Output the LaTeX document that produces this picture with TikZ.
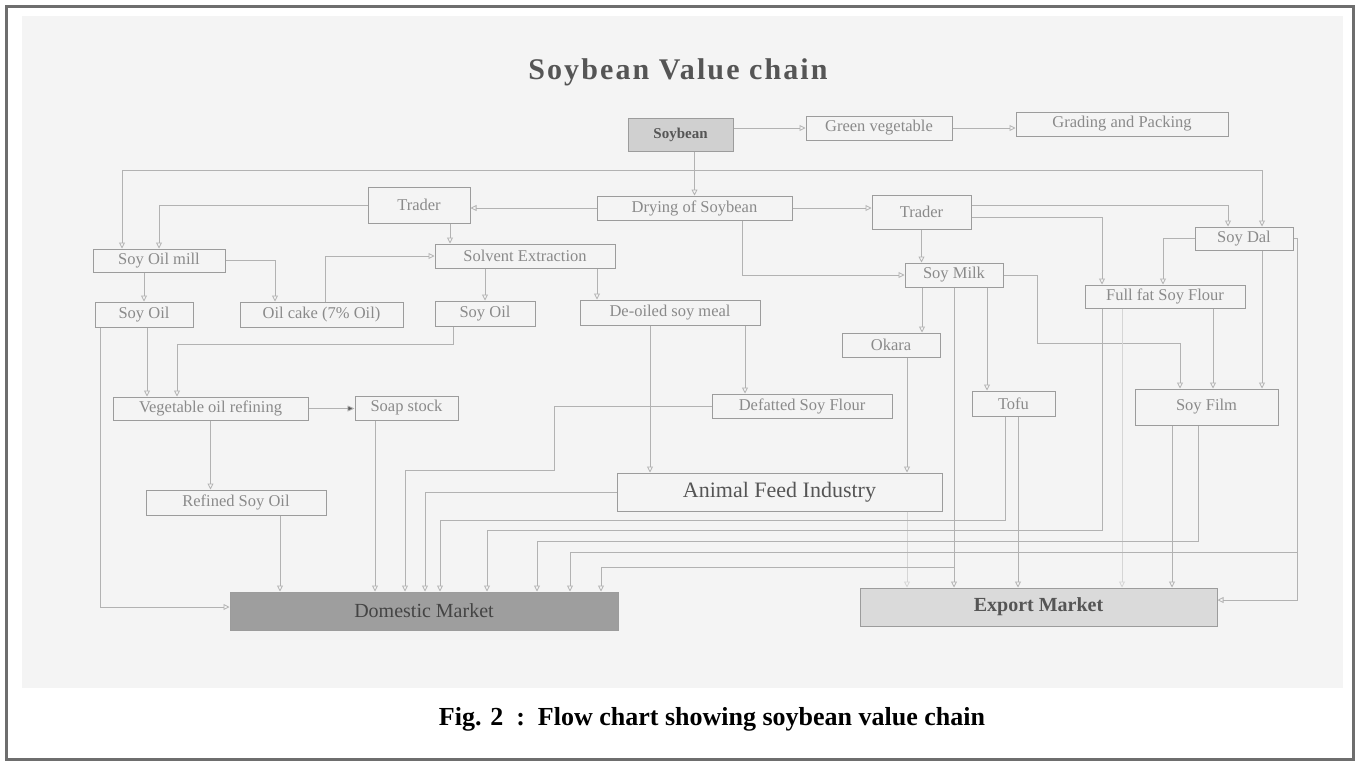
\documentclass[tikz,border=0pt]{standalone}
\usepackage{fontspec}
\setmainfont{Liberation Serif}
\newfontfamily\spacedserif[LetterSpace=7]{Liberation Serif}
\usetikzlibrary{arrows.meta}

\definecolor{panelgray}{HTML}{F4F4F4}
\definecolor{framegray}{HTML}{6E6E6E}
\definecolor{linegray}{HTML}{B2B2B2}
\definecolor{boxgray}{HTML}{9C9C9C}
\definecolor{textgray}{HTML}{8A8A8A}
\definecolor{titlegray}{HTML}{555555}
\definecolor{domfill}{HTML}{9E9E9E}
\definecolor{expfill}{HTML}{DADADA}
\definecolor{soyfill}{HTML}{D0D0D0}

\tikzset{
  box/.style={draw=boxgray, line width=1pt, text=textgray, inner sep=0pt,
    font=\fontsize{16.5}{18}\selectfont},
  sz/.style 2 args={minimum width=#1pt, minimum height=#2pt},
  flow/.style={draw=linegray, line width=0.8pt,
    -{Triangle[open, length=6pt, width=6pt]}},
  faint/.style={flow, draw=linegray!55},
  dark/.style={draw=linegray, line width=0.8pt,
    -{Triangle[length=7pt, width=6pt, fill=titlegray]}}
}

\begin{document}
\begin{tikzpicture}[x=1pt, y=-1pt]
  \useasboundingbox (0,0) rectangle (1359,764);
  % frame and panel
  \fill[panelgray] (22,16) rectangle (1343,688);
  \draw[framegray, line width=3pt] (6,6) rectangle (1353,759);

  \node[text=titlegray, font=\spacedserif\bfseries\fontsize{30}{32}\selectfont] (title) at (678,72) {Soybean Value chain};

  % top row
  \node[box, sz={105}{33}, fill=soyfill, text=titlegray, font=\bfseries\fontsize{15}{17}\selectfont] (soy) at (680.5,134.5) {Soybean};
  \node[box, sz={146}{24}] (green) at (879,128) {Green vegetable};
  \node[box, sz={212}{24}] (grading) at (1122,124) {Grading and Packing};

  % processing
  \node[box, sz={195}{24}] (drying) at (694.5,208) {Drying of Soybean};
  \node[box, sz={102}{36}] (traderL) at (419,205) {Trader};
  \node[box, sz={99}{34}] (traderR) at (921.5,212) {Trader};
  \node[box, sz={132}{23}] (oilmill) at (159,260.5) {Soy Oil mill};
  \node[box, sz={180}{24}] (solvent) at (525,256) {Solvent Extraction};
  \node[box, sz={98}{25}] (oilL) at (144,314.5) {Soy Oil};
  \node[box, sz={163}{25}] (cake) at (321.5,314.5) {Oil cake (7\% Oil)};
  \node[box, sz={100}{25}] (oilM) at (485,313.5) {Soy Oil};
  \node[box, sz={180}{25}] (meal) at (670,312.5) {De-oiled soy meal};
  \node[box, sz={98}{24}] (milk) at (954,275) {Soy Milk};
  \node[box, sz={98}{23}] (dal) at (1244,238.5) {Soy Dal};
  \node[box, sz={160}{23}] (fullfat) at (1165,296.5) {Full fat Soy Flour};
  \node[box, sz={98}{24}] (okara) at (891,345) {Okara};
  \node[box, sz={83}{25}] (tofu) at (1013.5,403.5) {Tofu};
  \node[box, sz={143}{36}] (film) at (1206.5,407) {Soy Film};
  \node[box, sz={195}{23}] (refining) at (210.5,408.5) {Vegetable oil refining};
  \node[box, sz={103}{24}] (soap) at (406.5,408) {Soap stock};
  \node[box, sz={180}{24}] (defat) at (802,406) {Defatted Soy Flour};
  \node[box, sz={325}{38}, text=titlegray, font=\fontsize{22}{24}\selectfont] (feed) at (779.5,492) {Animal Feed Industry};
  \node[box, sz={180}{25}] (refined) at (236,502.5) {Refined Soy Oil};

  % markets
  \node[box, sz={388}{38}, fill=domfill, text=titlegray!80!black, font=\fontsize{20}{22}\selectfont] (domestic) at (424,611) {Domestic Market};
  \node[box, sz={357}{38}, fill=expfill, text=titlegray, font=\bfseries\fontsize{20}{22}\selectfont] (export) at (1038.5,607) {Export Market};

  \node[font=\bfseries\fontsize{26}{28}\selectfont] (caption) at (712,719) {Fig. 2~~:~~Flow chart showing soybean value chain};

  % soybean branches
  \coordinate (split) at (694.5,170);
  \draw[flow] (soy.east |- green.west) -- (green.west);
  \draw[flow] (green.east) -- (green.east -| grading.west);
  \draw[flow] (soy.south -| drying.north) -- (drying.north);
  \draw[flow] (split) -| ([xshift=-37pt]oilmill.north);
  \draw[flow] (split) -| ([xshift=18pt]dal.north);

  % drying and traders
  \draw[flow] (drying.west) -- (drying.west -| traderL.east);
  \draw[flow] (drying.east) -- (drying.east -| traderR.west);
  \draw[flow] ([xshift=47.5pt]drying.south) |- (milk.west);
  \draw[flow] (traderL.west) -| (oilmill.north);
  \draw[flow] ([xshift=31pt]traderL.south) -- ([xshift=31pt]traderL.south |- solvent.north);
  \draw[flow] (traderR.south) -- (traderR.south |- milk.north);
  \draw[flow] ([yshift=7pt]traderR.east) -| ([xshift=-16pt]dal.north);
  \draw[flow] ([yshift=-5pt]traderR.east) -| ([xshift=-63pt]fullfat.north);

  % oil side
  \draw[flow] (oilmill.east) -| ([xshift=-46.5pt]cake.north);
  \draw[flow] (oilL.north |- oilmill.south) -- (oilL.north);
  \draw[flow] ([xshift=3.5pt]cake.north) |- (solvent.west);
  \draw[flow] (oilM.north |- solvent.south) -- (oilM.north);
  \draw[flow] ([xshift=72pt]solvent.south) -- ([xshift=72pt]solvent.south |- meal.north);
  \draw[flow] ([xshift=3pt]oilL.south) -- ([xshift=3pt]oilL.south |- refining.north);
  \draw[flow] ([xshift=-44pt]oilL.south) |- ([yshift=4pt]domestic.west);
  \draw[flow] ([xshift=-32pt]oilM.south) -- ++(0,18) -| ([xshift=-33.5pt]refining.north);
  \draw[dark] (refining.east) -- (refining.east -| soap.west);
  \draw[flow] (refining.south) -- (refining.south |- refined.north);
  \draw[flow] ([xshift=44pt]refined.south) -- ([xshift=44pt]refined.south |- domestic.north);
  \draw[flow] ([xshift=-31.5pt]soap.south) -- ([xshift=-31.5pt]soap.south |- domestic.north);

  % meal side
  \draw[flow] ([xshift=-20pt]meal.south) -- ([xshift=-20pt]meal.south |- feed.north);
  \draw[flow] ([xshift=75pt]meal.south) -- ([xshift=75pt]meal.south |- defat.north);
  \draw[flow] (defat.west) -- ++(-157,0) -- ++(0,64) -| ([xshift=-19pt]domestic.north);
  \draw[flow] (feed.west) -| ([xshift=1pt]domestic.north);
  \draw[faint] ([xshift=127.5pt]feed.south) -- ([xshift=127.5pt]feed.south |- export.north);

  % milk side
  \draw[flow] ([xshift=-32pt]milk.south) -- ([xshift=-32pt]milk.south |- okara.north);
  \draw[flow] ([xshift=33pt]milk.south) -- ([xshift=33pt]milk.south |- tofu.north);
  \draw[flow] (milk.south) -- (milk.south |- export.north);
  \draw[flow] (milk.south) -- ++(0,280) -| ([xshift=177pt]domestic.north);
  \draw[flow] (milk.east) -- ++(34,0) -- ++(0,68) -| ([xshift=-26.5pt]film.north);
  \draw[flow] ([xshift=16pt]okara.south) -- ([xshift=16pt]okara.south |- feed.north);
  \draw[flow] ([xshift=-8.5pt]tofu.south) -- ++(0,104) -| ([xshift=16pt]domestic.north);
  \draw[flow] ([xshift=4.5pt]tofu.south) -- ([xshift=4.5pt]tofu.south |- export.north);

  % dal, flour and film
  \draw[flow] (dal.west) -| ([xshift=-2pt]fullfat.north);
  \draw[flow] ([xshift=18pt]dal.south) -- ([xshift=18pt]dal.south |- film.north);
  \draw[flow] ([xshift=48pt]fullfat.south) -- ([xshift=48pt]fullfat.south |- film.north);
  \draw[flow] ([xshift=-63pt]fullfat.south) -- ++(0,222) -| ([xshift=63pt]domestic.north);
  \draw[faint] ([xshift=-43pt]fullfat.south) -- ([xshift=-43pt]fullfat.south |- export.north);
  \draw[flow] ([xshift=-8.5pt]film.south) -- ++(0,116) -| ([xshift=113pt]domestic.north);
  \draw[flow] ([xshift=-34.5pt]film.south) -- ([xshift=-34.5pt]film.south |- export.north);
  \draw[flow] ([xshift=4pt]dal.east) -- ++(0,313.5) -| ([xshift=146pt]domestic.north);
  \draw[flow] (dal.east) -- ++(4,0) |- ([yshift=7pt]export.east);
\end{tikzpicture}
\end{document}
